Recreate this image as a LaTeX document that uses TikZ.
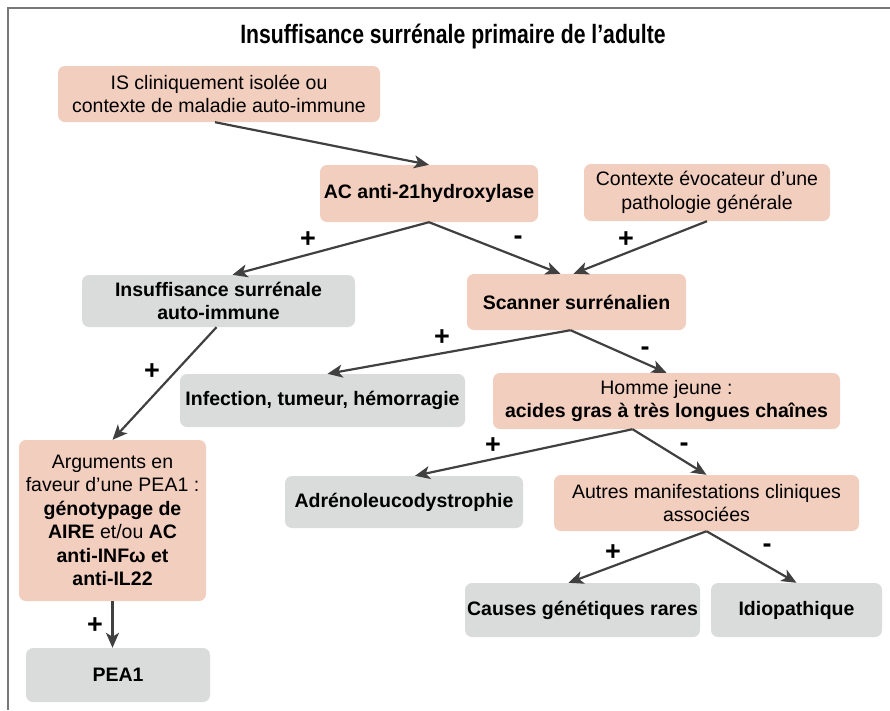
\documentclass[tikz,border=0pt]{standalone}
\usepackage{fontspec}
\setmainfont{Liberation Sans}
\usepackage{graphicx}
\usetikzlibrary{arrows.meta}
\definecolor{pinkbox}{RGB}{242,206,190}
\definecolor{graybox}{RGB}{218,219,219}
\definecolor{arrowc}{RGB}{64,64,64}
\definecolor{framec}{RGB}{120,120,120}
\begin{document}
\begin{tikzpicture}[x=1pt,y=-1pt,
  box/.style={rounded corners=7pt, inner sep=2pt, align=center, font=\fontsize{19.5}{23.5}\selectfont, text=black},
  pinkb/.style={box, fill=pinkbox},
  grayb/.style={box, fill=graybox},
  arr/.style={draw=arrowc, line width=2.2pt, -{Stealth[length=15pt,width=13pt,inset=4pt]}},
  sign/.style={font=\fontsize{27}{27}\selectfont\bfseries, text=black}]
\useasboundingbox (0,0) rectangle (890,710);
\draw[framec, line width=1.5pt] (8,710) -- (8,8) -- (890,8);
\node (title) at (453,37) {\scalebox{0.8}[1]{\fontsize{26.5}{30}\selectfont\bfseries Insuffisance surrénale primaire de l’adulte}};

\node[pinkb, minimum width=322pt, minimum height=56pt] (IS) at (219,94) {IS cliniquement isolée ou\\contexte de maladie auto-immune};
\node[pinkb, minimum width=218pt, minimum height=57pt] (AC) at (429,193.5) {\bfseries AC anti-21hydroxylase};
\node[pinkb, minimum width=246pt, minimum height=57pt] (Ctx) at (707,192.5) {Contexte évocateur d’une\\pathologie générale};
\node[grayb, minimum width=273pt, minimum height=52pt] (ISAI) at (218.5,301) {\bfseries Insuffisance surrénale\\\bfseries auto-immune};
\node[pinkb, minimum width=219pt, minimum height=56pt] (Scan) at (576.5,302) {\bfseries Scanner surrénalien};
\node[grayb, minimum width=285pt, minimum height=53pt] (Inf) at (322.5,400.5) {\bfseries Infection, tumeur, hémorragie};
\node[pinkb, minimum width=347pt, minimum height=56pt] (Homme) at (666.5,401) {Homme jeune :\\\bfseries acides gras à très longues chaînes};
\node[pinkb, minimum width=187pt, minimum height=161pt] (Arg) at (112.5,520.5) {Arguments en\\faveur d’une PEA1 :\\\textbf{génotypage de}\\\textbf{AIRE} et/ou \textbf{AC}\\\textbf{anti-INFω et}\\\textbf{anti-IL22}};
\node[grayb, minimum width=238pt, minimum height=52pt] (Adr) at (404,502) {\bfseries Adrénoleucodystrophie};
\node[pinkb, minimum width=305pt, minimum height=56pt] (Autres) at (706.5,503) {Autres manifestations cliniques\\associées};
\node[grayb, minimum width=184pt, minimum height=54pt] (PEA) at (118,675) {\bfseries PEA1};
\node[grayb, minimum width=235pt, minimum height=54pt] (Causes) at (582.5,610) {\bfseries Causes génétiques rares};
\node[grayb, minimum width=171pt, minimum height=54pt] (Idio) at (796.5,610) {\bfseries Idiopathique};

\draw[arr] ([xshift=-4pt]IS.south) -- (AC.north);
\draw[arr] (AC.south) -- ([xshift=14pt]ISAI.north);
\draw[arr] (AC.south) -- ([xshift=-16pt]Scan.north);
\draw[arr] (Ctx.south) -- ([xshift=-3pt]Scan.north);
\draw[arr] ([xshift=-6pt]Scan.south) -- ([xshift=5pt]Inf.north);
\draw[arr] ([xshift=-6pt]Scan.south) -- (Homme.north);
\draw[arr] ([xshift=-2pt]ISAI.south) -- (Arg.north);
\draw[arr] (Arg.south) -- (Arg.south |- PEA.north);
\draw[arr] ([xshift=-34pt]Homme.south) -- ([xshift=11pt]Adr.north);
\draw[arr] ([xshift=-34pt]Homme.south) -- (Autres.north);
\draw[arr] (Autres.south) -- ([xshift=-14pt]Causes.north);
\draw[arr] (Autres.south) -- (Idio.north);

\node[sign] (s1) at (308,240) {+};
\node[sign] (s2) at (518,240) {-};
\node[sign] (s3) at (626,240) {+};
\node[sign] (s4) at (442,338) {+};
\node[sign] (s5) at (645,351) {-};
\node[sign] (s6) at (152,372) {+};
\node[sign] (s7) at (493,446) {+};
\node[sign] (s8) at (684,447) {-};
\node[sign] (s9) at (613,553) {+};
\node[sign] (s10) at (767,548) {-};
\node[sign] (s11) at (95,626) {+};
\end{tikzpicture}
\end{document}
